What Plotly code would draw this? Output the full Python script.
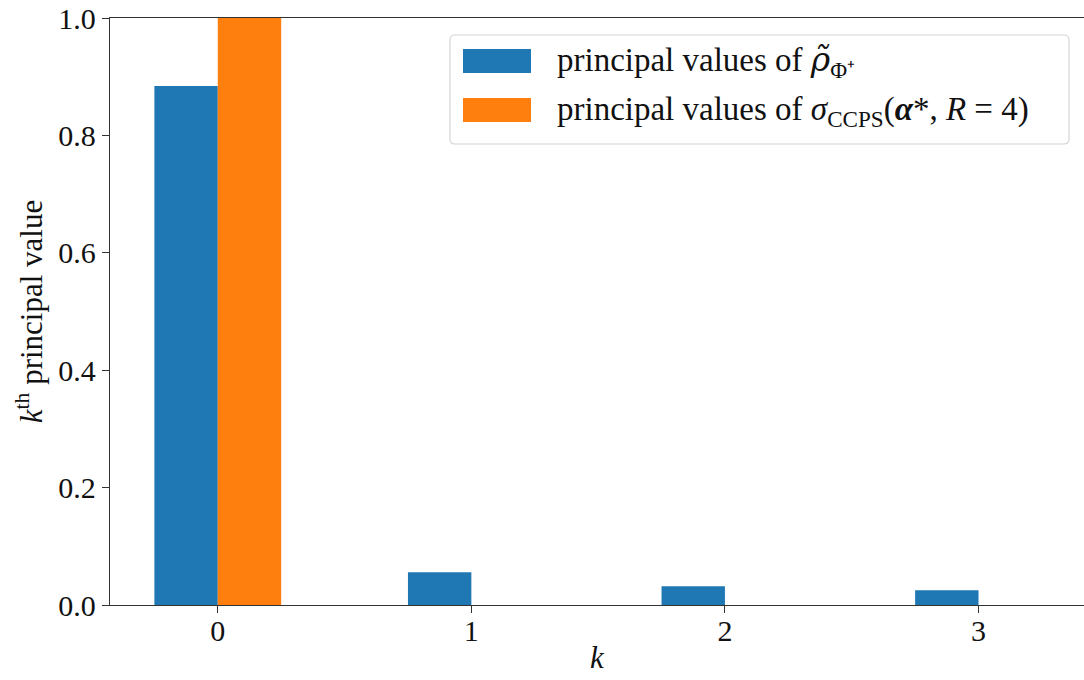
import plotly.graph_objects as go

# principal values per index k
k_values = [0, 1, 2, 3]
rho_phi_plus = [0.884, 0.056, 0.032, 0.025]
sigma_ccps = [1.0, 0.0, 0.0, 0.0]
y_ticks = [0.0, 0.2, 0.4, 0.6, 0.8, 1.0]
series_names = [
    "principal values of <span style=\"font-family:'DejaVu Serif';font-style:italic\">ρ̃</span>"
    "<sub>Φ⁺</sub>",
    "principal values of <i>σ</i><sub>CCPS</sub>(<b><i>α</i></b>*, <i>R</i> = 4)",
]
colors = ["#1f77b4", "#ff7f0e"]

FONT = "Liberation Serif"
TXT = "#111111"
AX = "#333333"
W, H = 1084, 680
L, R, T, B = 110, 1084, 18, 605  # plot area in pixels


def px(x):
    return (x - L) / (R - L)


def py(y):
    return (B - y) / (B - T)


def rounded_rect(x0, y0, x1, y1, r):
    """SVG path (paper coords) of a rectangle with rounded corners, given in pixels."""
    pts = [
        f"M {px(x0 + r)},{py(y0)}", f"L {px(x1 - r)},{py(y0)}",
        f"Q {px(x1)},{py(y0)} {px(x1)},{py(y0 + r)}", f"L {px(x1)},{py(y1 - r)}",
        f"Q {px(x1)},{py(y1)} {px(x1 - r)},{py(y1)}", f"L {px(x0 + r)},{py(y1)}",
        f"Q {px(x0)},{py(y1)} {px(x0)},{py(y1 - r)}", f"L {px(x0)},{py(y0 + r)}",
        f"Q {px(x0)},{py(y0)} {px(x0 + r)},{py(y0)}", "Z",
    ]
    return " ".join(pts)


fig = go.Figure()
for name, vals, col in zip(series_names, [rho_phi_plus, sigma_ccps], colors):
    fig.add_trace(go.Bar(x=k_values, y=vals, name=name, marker_color=col,
                         marker_line_width=0, showlegend=False))

fig.update_layout(
    width=W, height=H,
    margin=dict(l=L, r=W - R, t=T, b=H - B, pad=0),
    paper_bgcolor="white", plot_bgcolor="white",
    barmode="group", bargap=0.5, bargroupgap=0,
    font=dict(family=FONT, size=30, color=TXT),
    xaxis=dict(
        range=[-0.425, 3.416], tickvals=k_values, ticktext=[str(k) for k in k_values],
        showgrid=False, zeroline=False, showline=True, linecolor=AX, linewidth=1.3,
        mirror=True, ticks="outside", ticklen=7, tickwidth=1.2, tickcolor=AX,
        tickfont=dict(size=30), ticklabelstandoff=-8,
        title=dict(text="<i>k</i>", standoff=0, font=dict(size=31)),
    ),
    yaxis=dict(
        range=[0, 1.0], tickvals=y_ticks, ticktext=[f"{v:.1f}" for v in y_ticks],
        showgrid=False, zeroline=False, showline=True, linecolor=AX, linewidth=1.3,
        ticks="outside", ticklen=7, tickwidth=1.2, tickcolor=AX,
        tickfont=dict(size=30),
        title=dict(text="<i>k</i><sup>th</sup> principal value", standoff=6, font=dict(size=31)),
    ),
)

# legend box drawn as shapes and text
fig.add_shape(type="path", xref="paper", yref="paper",
              path=rounded_rect(450, 35, 1069, 144, 5),
              line=dict(color="#d6d6d6", width=1.2), fillcolor="rgba(255,255,255,0.8)")
for i, (name, col) in enumerate(zip(series_names, colors)):
    yc = 61 + 49 * i
    fig.add_shape(type="rect", xref="paper", yref="paper",
                  x0=px(463), x1=px(531), y0=py(yc + 12), y1=py(yc - 12),
                  line=dict(width=0), fillcolor=col)
    fig.add_annotation(xref="paper", yref="paper", x=px(555), y=py(yc + 1),
                       text=name, showarrow=False, xanchor="left", yanchor="middle",
                       font=dict(size=33, family=FONT, color=TXT))

fig.write_html("out.html")
